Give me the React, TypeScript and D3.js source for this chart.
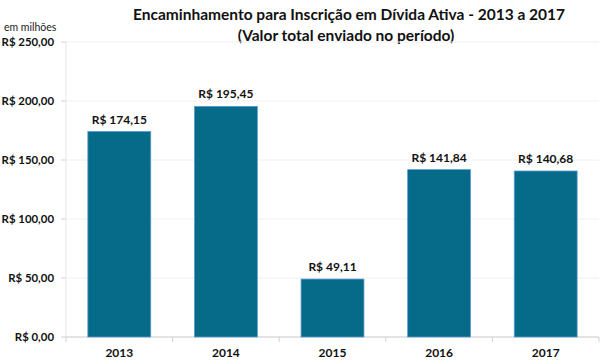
import React from 'react';
import * as d3 from 'd3';

const years = ['2013', '2014', '2015', '2016', '2017'];
const values = [174.15, 195.45, 49.11, 141.84, 140.68];
const yTicks = [0, 50, 100, 150, 200, 250];

const W = 600;
const H = 364;
const margin = { top: 42, right: 1, bottom: 27, left: 66 };
const FONT = "Lato, 'Open Sans', sans-serif";

const fmt = (v: number) => 'R$ ' + v.toFixed(2).replace('.', ',');

export default function App() {
  const innerW = W - margin.left - margin.right;
  const innerH = H - margin.top - margin.bottom;

  const x = d3.scaleBand().domain(years).range([0, innerW]).paddingInner(0.41).paddingOuter(0.205);
  const y = d3.scaleLinear().domain([0, 250]).range([innerH, 0]);
  const bandStep = innerW / years.length;

  return (
    <svg
      width={W}
      height={H}
      style={{ position: 'absolute', left: 0, top: 0, background: '#fff', fontFamily: FONT }}
    >
      <text x={349} y={20} textAnchor="middle" fontSize={15.5} fontWeight="bold" fill="#111">
        Encaminhamento para Inscrição em Dívida Ativa - 2013 a 2017
      </text>
      <text x={346} y={41} textAnchor="middle" fontSize={15.5} fontWeight="bold" fill="#111">
        (Valor total enviado no período)
      </text>
      <text x={4} y={31} fontSize={10.5} fill="#222">em milhões</text>

      <g transform={`translate(${margin.left},${margin.top})`}>
        {yTicks.map(t => (
          <g key={t}>
            <line x1={0} x2={innerW} y1={y(t)} y2={y(t)} stroke="#f0f0f0" strokeWidth={1} />
            <line x1={-5} x2={0} y1={y(t)} y2={y(t)} stroke="#d0d0d0" />
            <text x={-12} y={y(t)} dy="0.35em" textAnchor="end" fontSize={11.4} fontWeight="bold" fill="#111">
              {fmt(t)}
            </text>
          </g>
        ))}
        <line x1={0} x2={0} y1={0} y2={innerH} stroke="#e4e4e4" />
        <line x1={0} x2={innerW} y1={innerH} y2={innerH} stroke="#d0d0d0" />
        {d3.range(years.length + 1).map(i => (
          <line key={i} x1={i * bandStep} x2={i * bandStep} y1={innerH} y2={innerH + 5} stroke="#d0d0d0" />
        ))}

        {years.map((yr, i) => (
          <g key={yr}>
            <rect
              x={x(yr)}
              y={y(values[i])}
              width={x.bandwidth()}
              height={innerH - y(values[i])}
              fill="#056b88"
              stroke="#5b9bd5"
              strokeWidth={0.8}
            />
            <text
              x={(x(yr) as number) + x.bandwidth() / 2}
              y={y(values[i]) - 8}
              textAnchor="middle"
              fontSize={12}
              fontWeight="bold"
              fill="#111"
            >
              {fmt(values[i])}
            </text>
            <text
              x={(x(yr) as number) + x.bandwidth() / 2}
              y={innerH + 20}
              textAnchor="middle"
              fontSize={12}
              fontWeight="bold"
              fill="#111"
            >
              {yr}
            </text>
          </g>
        ))}
      </g>
    </svg>
  );
}
